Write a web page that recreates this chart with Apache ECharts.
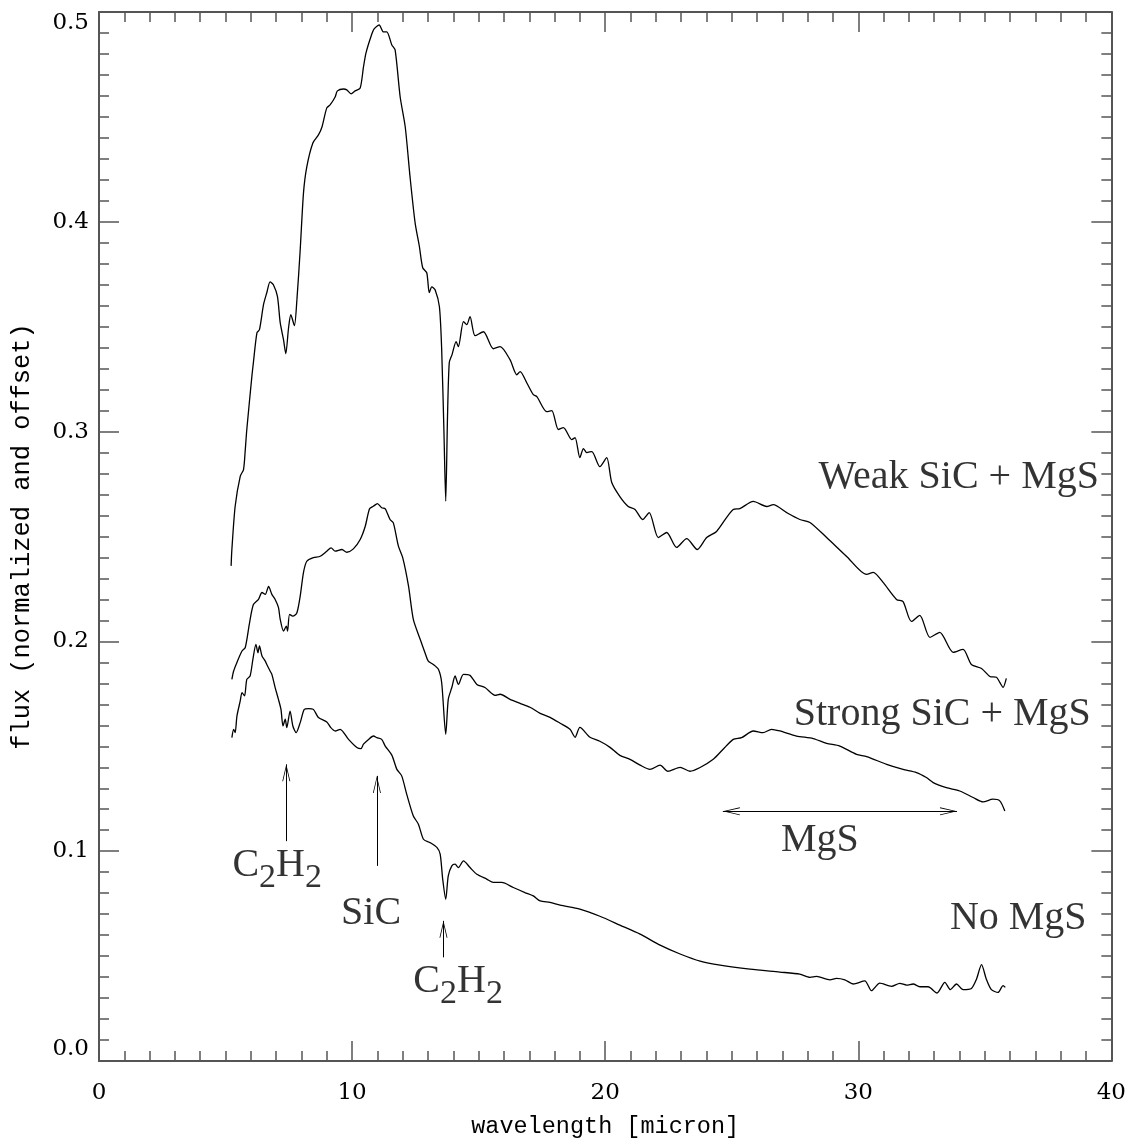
<!DOCTYPE html>
<html><head><meta charset="utf-8">
<script src="https://cdn.jsdelivr.net/npm/echarts@6/dist/echarts.min.js"></script>
<style>html,body{margin:0;padding:0;background:#fff}#c{width:1129px;height:1144px}</style>
</head><body><div id="c"></div>
<script>
// ---- data (wavelength in micron, flux normalized & offset) ----
const weakWave = [5.22,5.25,5.38,5.58,5.71,5.78,5.84,6.04,6.10,6.24,6.34,6.50,6.63,6.76,6.89,7.05,7.16,7.29,7.38,7.49,7.58,7.72,7.82,7.95,8.08,8.21,8.45,8.67,8.81,9.00,9.13,9.33,9.42,9.66,9.79,9.96,10.12,10.32,10.45,10.55,10.74,10.87,11.07,11.24,11.37,11.57,11.70,11.90,12.10,12.29,12.49,12.66,12.79,12.95,13.05,13.15,13.28,13.45,13.54,13.63,13.70,13.77,13.84,13.95,14.11,14.20,14.40,14.53,14.66,14.86,15.19,15.58,15.85,16.24,16.51,16.64,16.90,17.16,17.30,17.69,17.89,18.15,18.35,18.68,18.81,19.00,19.14,19.27,19.47,19.79,20.06,20.26,20.58,20.91,21.18,21.48,21.74,22.10,22.43,22.82,23.22,23.64,24.01,24.40,25.06,25.32,25.85,26.38,26.64,27.17,27.69,28.09,28.75,29.54,30.33,30.59,30.98,31.51,31.77,32.10,32.43,32.83,33.22,33.75,34.14,34.47,34.87,35.20,35.46,35.59,35.72,35.85];
const weakFlux = [0.236,0.2438,0.2644,0.2787,0.2819,0.2914,0.3010,0.3263,0.3329,0.3471,0.3486,0.3605,0.3662,0.3714,0.3700,0.3644,0.3519,0.3438,0.3371,0.3495,0.3557,0.3505,0.3629,0.3867,0.4138,0.4262,0.4376,0.4414,0.4452,0.4543,0.4557,0.4595,0.4624,0.4633,0.4629,0.4610,0.4624,0.4638,0.4738,0.4805,0.4881,0.4919,0.4938,0.4905,0.4905,0.4843,0.4819,0.4595,0.4452,0.4214,0.3995,0.3881,0.3781,0.3757,0.3662,0.3690,0.3676,0.3595,0.3390,0.2995,0.2668,0.3071,0.3329,0.3367,0.3429,0.3405,0.3524,0.3510,0.3548,0.3457,0.3476,0.3395,0.3405,0.3343,0.3271,0.3286,0.3233,0.3176,0.3167,0.3095,0.3100,0.3010,0.3019,0.2962,0.2971,0.2876,0.2919,0.2900,0.2905,0.2833,0.2876,0.2757,0.2690,0.2643,0.2629,0.2581,0.2614,0.2495,0.2519,0.2448,0.2490,0.2438,0.2495,0.2524,0.2629,0.2633,0.2667,0.2643,0.2652,0.2614,0.2581,0.2567,0.2495,0.2405,0.2319,0.2329,0.2281,0.2200,0.2190,0.2095,0.2124,0.2019,0.2043,0.1948,0.1962,0.1890,0.1871,0.1833,0.1829,0.1805,0.1781,0.1824];

const strongWave = [5.25,5.32,5.45,5.65,5.78,5.95,6.10,6.30,6.44,6.57,6.70,6.83,6.96,7.09,7.16,7.29,7.40,7.45,7.53,7.66,7.82,7.95,8.08,8.21,8.47,8.74,9.00,9.17,9.33,9.60,9.79,10.05,10.32,10.52,10.69,10.84,11.00,11.17,11.31,11.50,11.63,11.83,12.00,12.23,12.42,12.69,12.88,13.01,13.21,13.41,13.54,13.70,13.80,13.94,14.07,14.20,14.40,14.66,14.93,15.25,15.65,15.85,16.24,16.64,17.03,17.43,17.82,18.22,18.61,18.81,19.00,19.40,19.79,20.19,20.58,20.98,21.38,21.77,22.17,22.48,22.96,23.35,23.75,24.27,24.66,25.06,25.39,25.85,26.24,26.57,26.90,27.56,28.22,28.75,29.27,29.93,30.33,31.12,31.77,32.30,32.69,32.96,33.48,34.01,34.54,34.93,35.32,35.59,35.79];
const strongFlux = [0.1819,0.1859,0.1900,0.1954,0.1971,0.2090,0.2176,0.2200,0.2233,0.2224,0.2262,0.2224,0.2200,0.2162,0.2105,0.2049,0.2073,0.2049,0.2129,0.2120,0.2137,0.2216,0.2329,0.2382,0.2399,0.2406,0.2430,0.2446,0.2430,0.2438,0.2425,0.2441,0.2486,0.2549,0.2632,0.2644,0.2657,0.2637,0.2632,0.2581,0.2565,0.2454,0.2399,0.2263,0.2105,0.2010,0.1946,0.1906,0.1890,0.1867,0.1803,0.1557,0.1724,0.1780,0.1835,0.1795,0.1843,0.1838,0.1795,0.1780,0.1743,0.1748,0.1724,0.1705,0.1686,0.1657,0.1638,0.1610,0.1581,0.1543,0.1590,0.1543,0.1524,0.1495,0.1457,0.1438,0.1410,0.1390,0.1410,0.1381,0.1400,0.1381,0.1399,0.1438,0.1486,0.1533,0.1541,0.1573,0.1565,0.1581,0.1573,0.1549,0.1537,0.1514,0.1501,0.1462,0.1451,0.1414,0.1390,0.1375,0.1351,0.1327,0.1303,0.1287,0.1256,0.1235,0.1248,0.1240,0.1192];

const noneWave = [5.25,5.32,5.38,5.45,5.58,5.65,5.75,5.84,5.97,6.08,6.20,6.28,6.34,6.44,6.57,6.63,6.76,6.83,6.96,7.09,7.19,7.27,7.36,7.42,7.55,7.66,7.79,7.95,8.11,8.28,8.47,8.67,9.00,9.16,9.33,9.53,9.86,10.19,10.35,10.45,10.65,10.84,10.98,11.17,11.31,11.57,11.77,11.96,12.16,12.42,12.62,12.82,13.08,13.35,13.48,13.58,13.70,13.80,13.94,14.07,14.20,14.40,14.66,14.93,15.32,15.58,15.91,16.37,16.83,17.16,17.43,17.82,18.22,19.00,19.79,20.58,21.38,22.17,22.96,23.75,24.54,25.72,26.90,27.69,28.09,28.35,28.88,29.14,29.47,29.80,30.26,30.52,30.85,31.31,31.64,31.91,32.17,32.43,32.76,33.11,33.42,33.64,33.88,34.14,34.47,34.67,34.87,35.06,35.26,35.52,35.72,35.81];
const noneFlux = [0.1541,0.1581,0.1565,0.1644,0.1716,0.1756,0.1740,0.1819,0.1835,0.1914,0.1986,0.1946,0.1978,0.1930,0.1906,0.1890,0.1859,0.1843,0.1780,0.1724,0.1676,0.1597,0.1629,0.1589,0.1668,0.1597,0.1565,0.1613,0.1676,0.1680,0.1676,0.1637,0.1616,0.1589,0.1573,0.1581,0.1533,0.1494,0.1489,0.1510,0.1533,0.1549,0.1541,0.1533,0.1501,0.1458,0.1390,0.1359,0.1271,0.1168,0.1129,0.1057,0.1041,0.1018,0.0986,0.0867,0.0771,0.0882,0.0930,0.0938,0.0922,0.0954,0.0922,0.0890,0.0867,0.0851,0.0851,0.0827,0.0803,0.0787,0.0763,0.0756,0.0743,0.0724,0.0690,0.0648,0.0605,0.0552,0.0510,0.0476,0.0457,0.0438,0.0424,0.0414,0.0399,0.0403,0.0387,0.0394,0.0387,0.0367,0.0382,0.0335,0.0371,0.0356,0.0370,0.0362,0.0367,0.0354,0.0354,0.0324,0.0375,0.0340,0.0367,0.0340,0.0346,0.0390,0.0459,0.0390,0.0340,0.0327,0.0359,0.0351];

// annotation texts and their anchor positions (data coords)
const annoText = ['Weak SiC + MgS','Strong SiC + MgS','No MgS','MgS','C2H2','SiC','C2H2'];
const annoX = [33.97, 33.32, 36.32, 28.48, 7.04, 10.75, 14.19];
const annoY = [0.2781, 0.1652, 0.0679, 0.1052, 0.0910, 0.0705, 0.0357];
// feature arrows: [x, yFrom, yTo]
const arrowX = [7.40, 10.98, 13.61];
const arrowFrom = [0.1048, 0.0930, 0.0494];
const arrowTo = [0.1414, 0.1359, 0.0668];
// MgS range arrow
const mgsRange = [24.65, 33.9];
const mgsLevel = 0.119;

const xTicks = [0, 10, 20, 30, 40];
const yTicks = [0.0, 0.1, 0.2, 0.3, 0.4, 0.5];

// ---- chart ----
const zip = (a, b) => a.map((v, i) => [v, b[i]]);
const axisCol = '#555';
const serif = 'DejaVu Serif';
const mono = 'Liberation Mono';
const arrowPath = 'path://M5,0L10,14L9,14L5,2.6L1,14L0,14Z';
const head = { symbol: arrowPath, symbolSize: [8, 17], symbolOffset: [0, 8.5] };
const noHead = { symbol: 'none' };

function axisCommon(extra) {
  return Object.assign({
    type: 'value',
    axisLine: { show: true, onZero: false, lineStyle: { color: axisCol, width: 2 } },
    axisTick: { show: true, inside: true, length: 20, lineStyle: { color: axisCol, width: 1.5 } },
    minorTick: { show: true, splitNumber: 10, length: 10, lineStyle: { color: axisCol, width: 1.5 } },
    splitLine: { show: false },
    minorSplitLine: { show: false }
  }, extra);
}

const lineStyleCurve = { color: '#000', width: 1.3 };
const markLineBase = {
  silent: true, animation: false,
  lineStyle: { color: '#000', width: 1, type: 'solid' },
  label: { show: false },
  emphasis: { disabled: true }
};
const noBorder = { textBorderWidth: 0, textBorderColor: 'transparent', textShadowBlur: 0 };

const option = {
  animation: false,
  backgroundColor: '#fff',
  grid: { left: 99, right: 17, top: 12, bottom: 82, containLabel: false },
  xAxis: [
    axisCommon({
      position: 'bottom', min: xTicks[0], max: xTicks[xTicks.length - 1], interval: 10,
      axisLabel: { fontFamily: serif, fontSize: 23, color: '#000', margin: 21, formatter: v => String(v) },
      name: 'wavelength [micron]', nameLocation: 'middle', nameGap: 54,
      nameTextStyle: { fontFamily: mono, fontSize: 23.5, color: '#000' }
    }),
    axisCommon({ position: 'top', min: xTicks[0], max: xTicks[xTicks.length - 1], interval: 10, axisLabel: { show: false } })
  ],
  yAxis: [
    axisCommon({
      position: 'left', min: yTicks[0], max: yTicks[yTicks.length - 1], interval: 0.1,
      axisLabel: { fontFamily: serif, fontSize: 23, color: '#000', margin: 10,
        formatter: v => v.toFixed(1), verticalAlignMinLabel: 'bottom', verticalAlignMaxLabel: 'top' },
      name: 'flux (normalized and offset)', nameLocation: 'middle', nameGap: 64,
      nameTextStyle: { fontFamily: mono, fontSize: 25.4, color: '#000' }
    }),
    axisCommon({ position: 'right', min: yTicks[0], max: yTicks[yTicks.length - 1], interval: 0.1, axisLabel: { show: false } })
  ],
  series: [
    {
      name: 'Weak SiC + MgS', type: 'line', data: zip(weakWave, weakFlux),
      showSymbol: false, smooth: 0.25, lineStyle: lineStyleCurve, silent: true,
      markLine: Object.assign({}, markLineBase, {
        data: arrowX.map((x, i) => [
          Object.assign({ coord: [x, arrowFrom[i]] }, noHead),
          Object.assign({ coord: [x, arrowTo[i]] }, head)
        ])
      })
    },
    {
      name: 'Strong SiC + MgS', type: 'line', data: zip(strongWave, strongFlux),
      showSymbol: false, smooth: 0.25, lineStyle: lineStyleCurve, silent: true,
      markLine: Object.assign({}, markLineBase, {
        data: [[
          Object.assign({ coord: [mgsRange[0], mgsLevel] }, head),
          Object.assign({ coord: [mgsRange[1], mgsLevel] }, head)
        ]]
      })
    },
    {
      name: 'No MgS', type: 'line', data: zip(noneWave, noneFlux),
      showSymbol: false, smooth: 0.25, lineStyle: lineStyleCurve, silent: true
    },
    {
      name: 'labels', type: 'scatter', symbolSize: 0, silent: true,
      itemStyle: { color: '#000' },
      data: annoText.map((t, i) => ({ name: t, value: [annoX[i], annoY[i]] })),
      label: Object.assign({
        show: true, position: 'inside', align: 'center', verticalAlign: 'middle', color: '#000',
        formatter: p => p.name.split(/(\d)/).filter(s => s !== '').map(s => /^\d$/.test(s) ? '{s|' + s + '}' : '{n|' + s + '}').join(''),
        rich: {
          n: Object.assign({ fontFamily: 'Liberation Serif', fontSize: 40, lineHeight: 40, color: '#000', verticalAlign: 'top' }, noBorder),
          s: Object.assign({ fontFamily: 'Liberation Serif', fontSize: 34, color: '#000', verticalAlign: 'top', padding: [15, 0, 0, 0] }, noBorder)
        }
      }, noBorder)
    }
  ]
};

const chart = echarts.init(document.getElementById('c'), null, { renderer: 'canvas' });
chart.setOption(option);
</script>
</body></html>
